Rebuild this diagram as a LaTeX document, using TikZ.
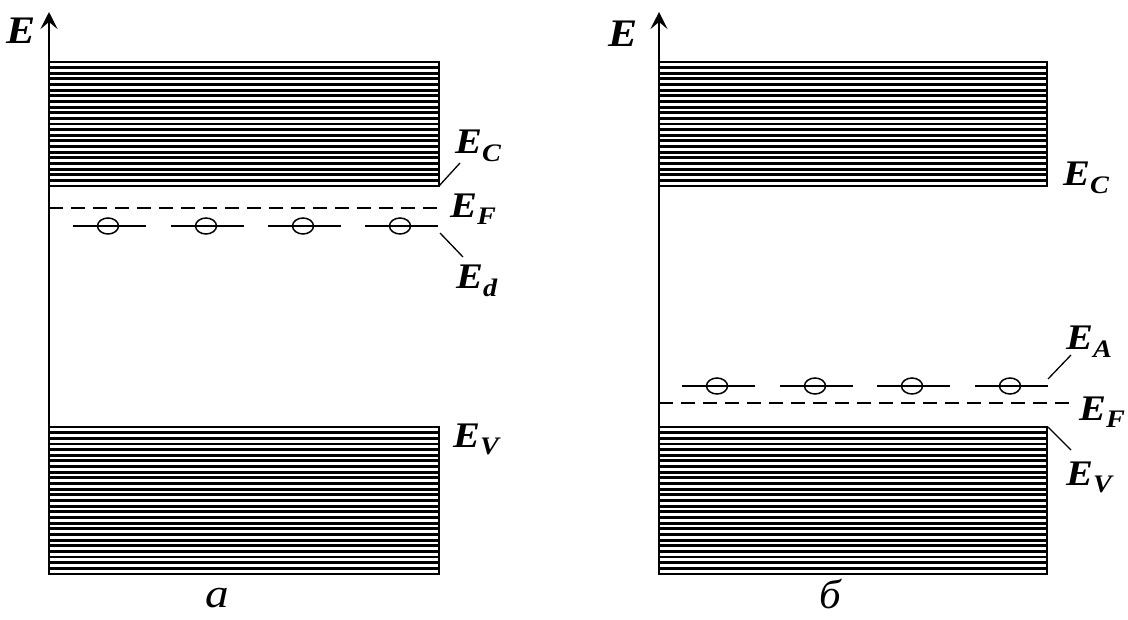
\documentclass[tikz,border=0pt]{standalone}
\usepackage{fontspec}
\setmainfont{Liberation Serif}
\usetikzlibrary{arrows.meta,shapes.geometric}
\newcommand\wideE[1]{\scalebox{1.12}[1]{#1}}
\tikzset{
  axisline/.style={line width=1.8pt,-{Stealth[length=17pt,width=17pt,inset=7pt]}},
  hatchline/.style={line width=2.9pt,line cap=butt},
  bandframe/.style={line width=1.6pt},
  fermi/.style={line width=1.3pt,dash pattern=on 14pt off 8pt},
  levelseg/.style={line width=1.4pt},
  trap/.style={line width=1.5pt,draw,ellipse,minimum width=21pt,minimum height=16pt,inner sep=0pt},
  leader/.style={line width=1.3pt},
  lbl/.style={font=\fontsize{36}{40}\selectfont\bfseries\itshape,inner sep=0pt,anchor=base west},
  axlbl/.style={font=\fontsize{39}{42}\selectfont\bfseries\itshape,inner sep=0pt,anchor=base west},
  captionlbl/.style={font=\fontsize{41}{44}\selectfont\itshape,inner sep=0pt,anchor=base},
}
\begin{document}
\begin{tikzpicture}[x=1pt,y=-1pt]
\useasboundingbox (0,0) rectangle (1128,619);
% ---------- panel a ----------
\foreach \k in {0,...,22}{\draw[hatchline] (49,{62+\k*124/22}) -- (439,{62+\k*124/22});}
\draw[bandframe] (49,62) rectangle (439,186);
\foreach \k in {0,...,26}{\draw[hatchline] (49,{427+\k*147/26}) -- (439,{427+\k*147/26});}
\draw[bandframe] (49,427) rectangle (439,574);
\coordinate (aBot) at (49,574);
\coordinate (aTop) at (49,12);
\draw[axisline] (aBot) -- (aTop);
\node[axlbl] (aE) at (6,43) {\wideE{E}};
\coordinate (aF1) at (49,208); \coordinate (aF2) at (440,208);
\draw[fermi] (aF1) -- (aF2);
\foreach \c/\n in {108/1,206/2,303/3,400/4}{
  \coordinate (ad\n l) at ({\c-35},226); \coordinate (ad\n r) at ({\c+38},226);
  \draw[levelseg] (ad\n l) -- (ad\n r);
  \node[trap] (ad\n) at (\c,226) {};
}
\node[lbl] (aEC) at (455,153) {\wideE{E\textsubscript{C}}};
\node[lbl] (aEF) at (450,217) {\wideE{E\textsubscript{F}}};
\node[lbl] (aEd) at (456,288) {\wideE{E\textsubscript{d}}};
\node[lbl] (aEV) at (453,447) {\wideE{E\textsubscript{V}}};
\coordinate (aC1) at (439,186); \coordinate (aC2) at (460,163);
\draw[leader] (aC1) -- (aC2);
\coordinate (aD1) at (440,233); \coordinate (aD2) at (463,257);
\draw[leader] (aD1) -- (aD2);
\node[captionlbl] (capA) at (217,607) {\scalebox{1.15}[1]{а}};
% ---------- panel b ----------
\foreach \k in {0,...,22}{\draw[hatchline] (659,{62+\k*124/22}) -- (1047,{62+\k*124/22});}
\draw[bandframe] (659,62) rectangle (1047,186);
\foreach \k in {0,...,26}{\draw[hatchline] (659,{427+\k*147/26}) -- (1047,{427+\k*147/26});}
\draw[bandframe] (659,427) rectangle (1047,574);
\coordinate (bBot) at (659,574);
\coordinate (bTop) at (659,12);
\draw[axisline] (bBot) -- (bTop);
\node[axlbl] (bE) at (608,46) {\wideE{E}};
\coordinate (bF1) at (659,403); \coordinate (bF2) at (1070,403);
\draw[fermi] (bF1) -- (bF2);
\foreach \c/\n in {717/1,815/2,912/3,1010/4}{
  \coordinate (ba\n l) at ({\c-35},386); \coordinate (ba\n r) at ({\c+38},386);
  \draw[levelseg] (ba\n l) -- (ba\n r);
  \node[trap] (ba\n) at (\c,386) {};
}
\node[lbl] (bEC) at (1063,185) {\wideE{E\textsubscript{C}}};
\node[lbl] (bEA) at (1066,349) {\wideE{E\textsubscript{A}}};
\node[lbl] (bEF) at (1079,420) {\wideE{E\textsubscript{F}}};
\node[lbl] (bEV) at (1066,485) {\wideE{E\textsubscript{V}}};
\coordinate (bA1) at (1048,379); \coordinate (bA2) at (1071,355);
\draw[leader] (bA1) -- (bA2);
\coordinate (bV1) at (1048,427); \coordinate (bV2) at (1071,450);
\draw[leader] (bV1) -- (bV2);
\node[captionlbl] (capB) at (830,608) {\scalebox{1.05}[1]{б}};
\end{tikzpicture}
\end{document}
